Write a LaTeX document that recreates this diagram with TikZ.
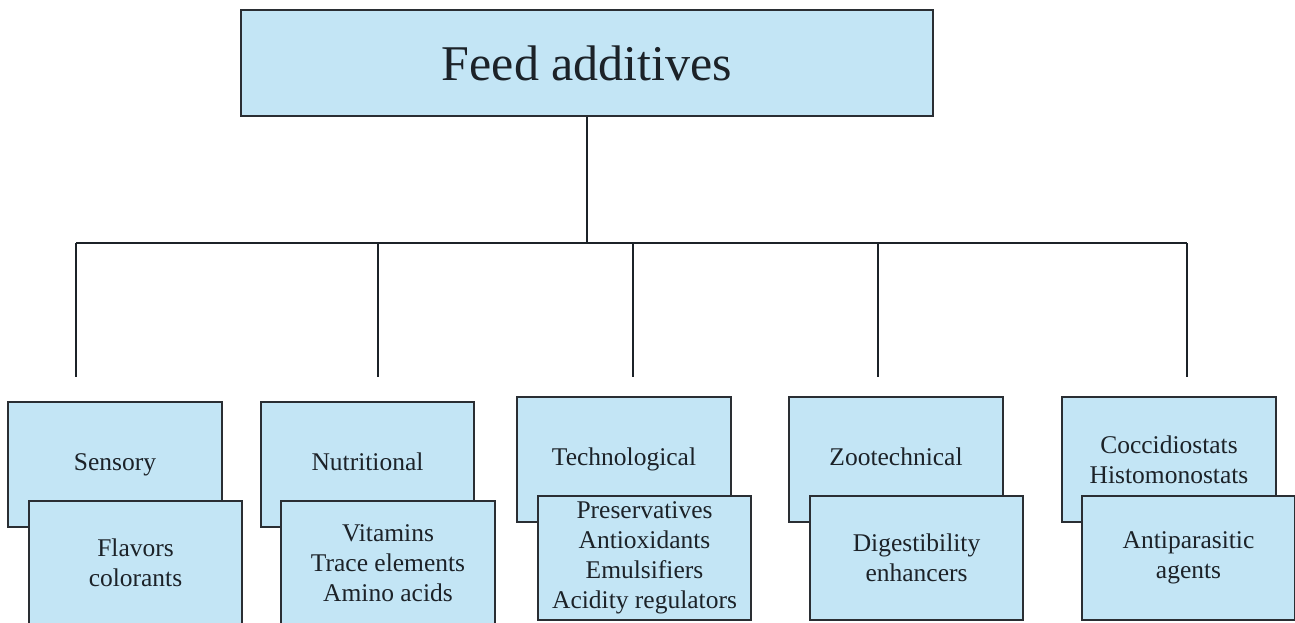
\documentclass[tikz,border=0pt]{standalone}
\usepackage{fontspec}
\setmainfont{Liberation Serif}
\definecolor{boxfill}{HTML}{C3E5F5}
\definecolor{boxline}{HTML}{2A2E33}
\definecolor{ink}{HTML}{1C2228}
\begin{document}
\begin{tikzpicture}[x=1pt,y=-1pt,
  box/.style={draw=boxline, fill=boxfill, line width=1.8pt, rectangle, inner sep=0pt,
    align=center, text=ink, font=\fontsize{25.5}{30}\selectfont},
  backbox/.style={box, minimum width=214pt, minimum height=125pt},
  frontbox/.style={box, minimum width=213pt, minimum height=124pt},
  link/.style={draw=ink, line width=1.7pt}]
\useasboundingbox (0,0) rectangle (1295,623);

% title
\node[box, minimum width=692pt, minimum height=106pt, font=\fontsize{50}{58}\selectfont] (top) at (587,63) {Feed additives};

% back boxes
\node[backbox] (sens) at (115,464.5) {\strut Sensory};
\node[backbox, minimum width=213pt] (nutr) at (367.5,464.5) {\strut Nutritional};
\node[backbox] (tech) at (624,459.5) {\strut Technological};
\node[backbox] (zoo) at (896,459.5) {\strut Zootechnical};
\node[backbox] (cocc) at (1169,459.5) {Coccidiostats\\Histomonostats};

% front boxes
\node[frontbox] (flav) at (135.5,563) {Flavors\\colorants};
\node[frontbox, minimum width=214pt] (vita) at (388,563) {Vitamins\\Trace elements\\Amino acids};
\node[frontbox] (pres) at (644.5,558) {Preservatives\\Antioxidants\\Emulsifiers\\Acidity regulators};
\node[frontbox] (dige) at (916.5,558) {Digestibility\\enhancers};
\node[frontbox] (anti) at (1188.5,558) {Antiparasitic\\agents};

% connector coordinates
\coordinate (hub) at (587,243);
\coordinate (j1) at (76,243);
\coordinate (j2) at (378,243);
\coordinate (j3) at (633,243);
\coordinate (j4) at (878,243);
\coordinate (j5) at (1187,243);
\coordinate (e1) at (76,377);
\coordinate (e2) at (378,377);
\coordinate (e3) at (633,377);
\coordinate (e4) at (878,377);
\coordinate (e5) at (1187,377);

\draw[link] (top.south) -- (hub);
\draw[link] (j1) -- (j5);
\draw[link] (j1) -- (e1);
\draw[link] (j2) -- (e2);
\draw[link] (j3) -- (e3);
\draw[link] (j4) -- (e4);
\draw[link] (j5) -- (e5);
\end{tikzpicture}
\end{document}
